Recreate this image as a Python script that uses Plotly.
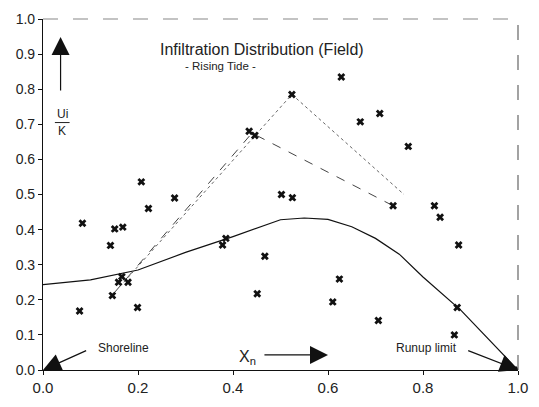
import plotly.graph_objects as go

# Field data points (Xn, Ui/K)
pts_x = [0.083, 0.077, 0.142, 0.151, 0.168, 0.146, 0.159, 0.166, 0.179, 0.199,
         0.207, 0.222, 0.277, 0.378, 0.385, 0.467, 0.451, 0.434, 0.446, 0.524,
         0.502, 0.525, 0.628, 0.624, 0.610, 0.668, 0.709, 0.769, 0.737, 0.824,
         0.836, 0.875, 0.872, 0.706, 0.866, 1.0]
pts_y = [0.418, 0.168, 0.355, 0.402, 0.407, 0.212, 0.250, 0.266, 0.250, 0.178,
         0.536, 0.460, 0.490, 0.356, 0.375, 0.324, 0.217, 0.680, 0.668, 0.785,
         0.500, 0.491, 0.835, 0.259, 0.194, 0.707, 0.731, 0.637, 0.468, 0.468,
         0.435, 0.356, 0.178, 0.141, 0.100, 0.0]

# Mean distribution curve
curve_x = [0.0, 0.1, 0.2, 0.3, 0.4, 0.5, 0.55, 0.6, 0.65, 0.7, 0.75, 0.8, 0.88, 1.0]
curve_y = [0.243, 0.257, 0.285, 0.335, 0.38, 0.428, 0.433, 0.429, 0.408, 0.375, 0.33, 0.265, 0.17, 0.0]

# Envelope lines
dash_x = [0.15, 0.44, 0.737]
dash_y = [0.22, 0.675, 0.468]
dot_x = [0.17, 0.524, 0.76]
dot_y = [0.25, 0.785, 0.50]

xticks = [0.0, 0.2, 0.4, 0.6, 0.8, 1.0]
yticks = [round(i * 0.1, 1) for i in range(11)]

fig = go.Figure()
fig.add_trace(go.Scatter(x=curve_x, y=curve_y, mode="lines",
                         line=dict(color="#111", width=1.2), hoverinfo="skip"))
fig.add_trace(go.Scatter(x=dash_x, y=dash_y, mode="lines",
                         line=dict(color="#444", width=1, dash="dash"), hoverinfo="skip"))
fig.add_trace(go.Scatter(x=dot_x, y=dot_y, mode="lines",
                         line=dict(color="#666", width=1, dash="dot"), hoverinfo="skip"))
fig.add_trace(go.Scatter(x=pts_x, y=pts_y, mode="markers",
                         marker=dict(symbol="x", size=7, color="#111",
                                     line=dict(width=0))))

font = "Liberation Sans, Arial, sans-serif"
ann = []
ann.append(dict(x=0.462, y=0.913, text="Infiltration Distribution (Field)", showarrow=False,
                font=dict(size=16, color="#222", family=font)))
ann.append(dict(x=0.373, y=0.865, text="- Rising Tide -", showarrow=False,
                font=dict(size=11.5, color="#222", family=font)))
ann.append(dict(x=0.169, y=0.062, text="Shoreline", showarrow=False,
                font=dict(size=12, color="#222", family=font)))
ann.append(dict(x=0.808, y=0.062, text="Runup limit", showarrow=False,
                font=dict(size=12, color="#222", family=font)))
ann.append(dict(x=0.43, y=0.035, text="X<sub>n</sub>", showarrow=False,
                font=dict(size=16, color="#222", family=font)))
ann.append(dict(x=0.04, y=0.728, text="Ui", showarrow=False,
                font=dict(size=12, color="#222", family=font)))
ann.append(dict(x=0.04, y=0.681, text="K", showarrow=False,
                font=dict(size=12, color="#222", family=font)))
# arrows
arrows = [
    (0.0, 0.0, 0.094, 0.057),
    (1.0, 0.0, 0.892, 0.057),
    (0.60, 0.043, 0.463, 0.043),
    (0.037, 0.949, 0.037, 0.792),
]
for hx, hy, tx, ty in arrows:
    ann.append(dict(x=hx, y=hy, ax=tx, ay=ty, xref="x", yref="y", axref="x", ayref="y",
                    text="", showarrow=True, arrowhead=2, arrowsize=3, arrowwidth=1.2,
                    arrowcolor="#111", standoff=0))

fig.update_layout(
    width=539, height=407,
    margin=dict(l=43, r=17, t=11, b=26),
    paper_bgcolor="white", plot_bgcolor="white",
    showlegend=False,
    annotations=ann,
    shapes=[
        dict(type="line", xref="paper", yref="paper", x0=0, x1=1, y0=1, y1=1,
             line=dict(color="#888", width=1.2, dash="longdash")),
        dict(type="line", xref="paper", yref="paper", x0=1, x1=1, y0=0, y1=1,
             line=dict(color="#666", width=1.2, dash="longdash")),
        dict(type="line", xref="x", yref="y", x0=0.025, x1=0.056, y0=0.705, y1=0.705,
             line=dict(color="#222", width=1)),
    ],
)
fig.update_xaxes(range=[0, 1], tickvals=xticks, ticktext=[f"{v:.1f}" for v in xticks],
                 showgrid=False, zeroline=False, showline=True, linecolor="#111", linewidth=1.2,
                 ticks="outside", ticklen=4, tickcolor="#111",
                 tickfont=dict(size=15, color="#222", family=font))
fig.update_yaxes(range=[0, 1], tickvals=yticks, ticktext=[f"{v:.1f}" for v in yticks],
                 showgrid=False, zeroline=False, showline=True, linecolor="#111", linewidth=1.2,
                 ticks="outside", ticklen=4, tickcolor="#111",
                 tickfont=dict(size=14, color="#222", family=font))

fig.write_html("out.html")
